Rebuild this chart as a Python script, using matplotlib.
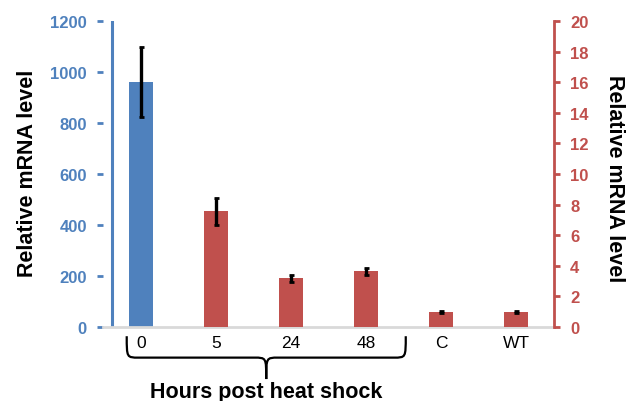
import numpy as np
import matplotlib
matplotlib.use("Agg")
import matplotlib.pyplot as plt
from matplotlib.path import Path
from matplotlib.patches import PathPatch
import matplotlib.transforms as mtransforms

plt.rcParams['font.family'] = ['Liberation Sans', 'DejaVu Sans']

labels = ['0', '5', '24', '48', 'C', 'WT']
# 0 h plotted on the left axis, everything else on the right axis
left_val = [962]
left_err = [137]
right_val = [7.56, 3.20, 3.64, 0.98, 0.98]
right_err = [0.90, 0.23, 0.24, 0.06, 0.06]

blue = '#4F81BD'
red = '#C0504D'

fig = plt.figure(figsize=(6.29, 4.02), dpi=100)
ax = fig.add_axes([0.1645, 0.184, 0.7155, 0.761])
ax2 = ax.twinx()

x = np.arange(len(labels))
w = 0.31
ax.bar(x[:1], left_val, width=w, color=blue, zorder=2)
ax.errorbar(x[:1], left_val, yerr=left_err, fmt='none', ecolor='black',
            elinewidth=2.4, capsize=1.8, capthick=2, zorder=3)
ax2.bar(x[1:], right_val, width=w, color=red, zorder=2)
ax2.errorbar(x[1:], right_val, yerr=right_err, fmt='none', ecolor='black',
             elinewidth=2.4, capsize=1.8, capthick=2, zorder=3)

ax.set_xlim(-0.5, 5.5)
ax.set_ylim(0, 1200)
ax2.set_ylim(0, 20)
ax.set_yticks(range(0, 1201, 200))
ax2.set_yticks(range(0, 21, 2))

ax.set_xticks(x)
ax.set_xticklabels(labels, fontsize=12.5)
ax.tick_params(axis='x', length=0, pad=6)

# left axis: ticks at the plot edge, blue line a bit to the right
for s in ['top', 'right', 'left']:
    ax.spines[s].set_visible(False)
ax.spines['bottom'].set_color('#D9D9D9')
ax.spines['bottom'].set_linewidth(2)
ax.axvline(-0.39, ymin=0.007, ymax=1, color=blue, lw=2.2, zorder=1)
ax.tick_params(axis='y', colors=blue, length=4, width=2, pad=8,
               labelsize=12)
for t in ax.get_yticklabels():
    t.set_fontweight('bold')

for s in ['top', 'left', 'bottom']:
    ax2.spines[s].set_visible(False)
ax2.spines['right'].set_color(red)
ax2.spines['right'].set_linewidth(2)
ax2.tick_params(axis='y', colors=red, length=4, width=2, pad=8,
                labelsize=12)
for t in ax2.get_yticklabels():
    t.set_fontweight('bold')

ax.set_ylabel('Relative mRNA level', fontsize=15.5, fontweight='bold')
ax.yaxis.set_label_coords(-0.145, 0.505)
ax2.set_ylabel('Relative mRNA level', fontsize=15.5, fontweight='bold',
               rotation=270, va='center')
ax2.yaxis.set_label_coords(1.135, 0.49)

# curly brace under the time points
trans = mtransforms.blended_transform_factory(ax.transData, ax.transAxes)
x0, x1 = -0.19, 3.53
xm = (x0 + x1) / 2
yt, ym, yb = -0.03, -0.10, -0.17
d = 0.16
verts = [(x0, yt), (x0, ym), (x0, ym), (x0 + d, ym),
         (xm - d, ym),
         (xm, ym), (xm, ym), (xm, yb),
         (xm, ym), (xm, ym), (xm + d, ym),
         (x1 - d, ym),
         (x1, ym), (x1, ym), (x1, yt)]
codes = [Path.MOVETO, Path.CURVE4, Path.CURVE4, Path.CURVE4,
         Path.LINETO,
         Path.CURVE4, Path.CURVE4, Path.CURVE4,
         Path.CURVE4, Path.CURVE4, Path.CURVE4,
         Path.LINETO,
         Path.CURVE4, Path.CURVE4, Path.CURVE4]
brace = PathPatch(Path(verts, codes), fill=False, lw=1.6, color='black',
                  transform=trans, clip_on=False)
ax.add_patch(brace)
ax.text(xm, -0.21, 'Hours post heat shock', transform=trans, ha='center',
        va='center', fontsize=15.5, fontweight='bold')

fig.savefig('out.png', dpi=100)
